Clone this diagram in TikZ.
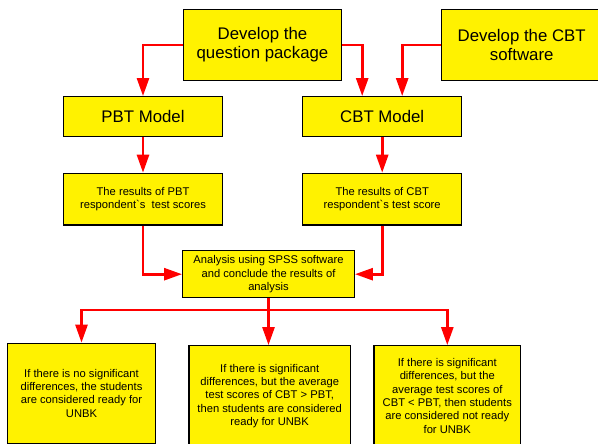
\documentclass[tikz,border=0pt]{standalone}
\usepackage{fontspec}
\setmainfont{Liberation Sans}
\usetikzlibrary{arrows.meta}

\begin{document}
\begin{tikzpicture}[x=1pt, y=-1pt,
	box/.style={draw=black, line width=1.3pt, fill=yellow, align=center, inner sep=2pt},
	bigbox/.style={box, font=\fontsize{16.8}{19.3}\selectfont},
	smallbox/.style={box, font=\fontsize{11.2}{13.3}\selectfont},
	flow/.style={draw=red, line width=2.6pt, -{Triangle[length=18pt, width=12pt]}}]
	\useasboundingbox (0,0) rectangle (598,444);
	\clip (0,0) rectangle (598,444);
	\node[bigbox, minimum width=158pt, minimum height=71pt] (qp) at (262.5,45) {Develop the\\question package};
	\node[bigbox, minimum width=160pt, minimum height=71pt] (sw) at (521.7,45) {Develop the CBT\\software};
	\node[bigbox, minimum width=159pt, minimum height=40pt] (pbt) at (143,116.7) {PBT Model};
	\node[bigbox, minimum width=159pt, minimum height=40pt] (cbt) at (382.2,116.7) {CBT Model};
	\node[smallbox, minimum width=159pt, minimum height=51.7pt] (resp) at (143,199.2) {The results of PBT\\respondent\textasciigrave s\ \ test scores};
	\node[smallbox, minimum width=159pt, minimum height=51.7pt] (resc) at (382.2,199.2) {The results of CBT\\respondent\textasciigrave s test score};
	\node[smallbox, minimum width=171.6pt, minimum height=47pt] (ana) at (268.5,274.2) {Analysis using SPSS software\\and conclude the results of\\analysis};
	\node[smallbox, minimum width=147.6pt, minimum height=100pt] (c1) at (81.5,393.3) {If there is no significant\\differences, the students\\are considered ready for\\UNBK};
	\node[smallbox, minimum width=161.3pt, minimum height=100.3pt] (c2) at (269.7,395.9) {If there is significant\\differences, but the average\\test scores of CBT > PBT,\\then students are considered\\ready for UNBK};
	\node[smallbox, minimum width=146.7pt, minimum height=100.3pt] (c3) at (447.3,395.9) {If there is significant\\differences, but the\\average test scores of\\CBT < PBT, then students\\are considered not ready\\for UNBK};
	\coordinate (split) at (268.5,310);
	\draw[flow] (qp.west) -| (pbt.north);
	\draw[flow] (qp.east) -| ([xshift=-20pt]cbt.north);
	\draw[flow] (sw.west) -| ([xshift=20pt]cbt.north);
	\draw[flow] (pbt) -- (resp);
	\draw[flow] (cbt) -- (resc);
	\draw[flow] (resp.south) |- (ana.west);
	\draw[flow] (resc.south) |- (ana.east);
	\draw[flow] (ana.south) -- (split) -| (c1.north);
	\draw[flow] (split) -- (split |- c2.north);
	\draw[flow] (split) -| (c3.north);
\end{tikzpicture}
\end{document}
